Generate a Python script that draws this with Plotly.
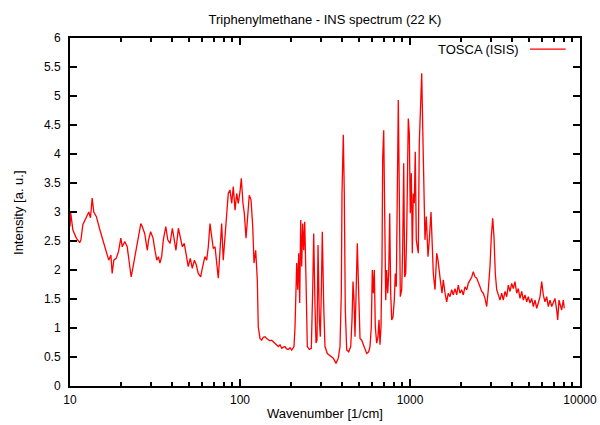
import plotly.graph_objects as go

title_text = "Triphenylmethane - INS spectrum (22 K)"
x_title = "Wavenumber [1/cm]"
y_title = "Intensity [a. u.]"
series_name = "TOSCA (ISIS)"

wavenumber = [
    10.0, 10.1, 10.4, 10.9, 11.4, 11.6, 11.9, 12.5, 12.9, 13.2, 13.5, 13.8, 14.3, 14.9,
    15.6, 16.4, 16.9, 17.4, 17.7, 18.1, 18.7, 19.3, 19.9, 20.3, 21.0, 21.7, 22.4, 22.9,
    23.6, 24.3, 25.1, 26.1, 26.6, 27.5, 28.5, 29.0, 29.8, 30.8,
    31.6, 32.4, 33.1, 33.8, 34.6, 35.4, 36.6, 37.6, 38.8, 40.0, 40.9, 42.0, 43.4, 44.4,
    45.8, 47.0, 48.6, 49.6, 51.0, 52.4, 53.9, 55.3, 56.8, 58.7, 60.3, 62.2, 63.7, 65.1,
    66.6, 68.1, 69.6, 71.3, 72.9, 74.5, 76.3, 78.0, 79.7, 81.6, 83.5, 85.3, 87.3, 89.4,
    91.3, 93.5, 95.6, 97.7, 100.0, 101.8, 104.1, 106.0, 108.5, 111.0, 113.4,
    116.1, 118.8, 120.9, 123.7, 126.4, 128.1, 131.1, 134.2, 137.0, 140.3, 143.5, 146.7,
    150.0, 153.7, 157.0, 160.7, 164.5, 168.1, 172.0, 176.0, 180.0, 184.0, 188.0, 192.4,
    197.0, 201.5, 207.8, 210.7, 213.5, 215.6, 218.5, 221.5, 224.5,
    227.6, 230.7, 233.8, 237.0, 240.3, 244.5, 248.9, 255.7, 262.7, 267.7, 271.4, 276.2,
    280.0, 283.8, 287.7, 292.8, 296.8, 300.8, 304.9, 310.8, 316.2, 326.2, 338.4,
    353.9, 367.1, 378.7, 387.5, 394.4, 398.1, 405.2, 410.7, 416.3, 424.3, 436.0, 448.0,
    456.0, 462.1, 468.4, 474.8, 481.3, 489.8, 499.2, 508.1, 519.9, 531.3, 543.6, 556.3,
    571.6, 581.8, 592.1, 600.1, 608.3, 616.6, 625.0, 637.0, 648.3, 657.1, 666.1, 675.2,
    684.4, 691.0, 700.4, 710.0, 719.7, 729.4, 739.4, 749.4, 759.7, 770.0, 780.6, 794.3,
    808.4, 819.4, 830.6, 842.0, 853.5, 865.2, 877.0, 893.8, 906.0, 918.4, 930.9, 943.6,
    956.3, 969.4, 977.2, 990.6, 1004, 1018, 1032, 1045, 1060, 1074, 1089, 1104, 1119,
    1134, 1156, 1172, 1193, 1209, 1225, 1247, 1276, 1299, 1329, 1353, 1371, 1403, 1436,
    1461, 1487, 1516, 1543, 1570, 1607, 1644, 1680, 1719, 1759, 1798, 1839, 1882, 1923,
    1968, 2014, 2058, 2106, 2155, 2203, 2254, 2307, 2357, 2412, 2468, 2522, 2581, 2641,
    2699, 2762, 2826, 2888, 2955, 3007, 3065, 3119, 3175, 3236, 3307, 3384, 3463, 3539,
    3622, 3706, 3787, 3875, 3965, 4052, 4146, 4243, 4336, 4437, 4541, 4640, 4748, 4858,
    4965, 5081, 5199, 5313, 5436, 5563, 5684, 5818, 5953, 6083, 6224, 6369, 6508, 6660,
    6815, 6964, 7126, 7293, 7393, 7524, 7658, 7803, 7974, 8082,
]

intensity = [
    2.75, 2.98, 2.69, 2.55, 2.47, 2.52, 2.78, 2.92, 3.00, 2.90, 3.24, 3.00, 2.92, 2.72,
    2.52, 2.32, 2.17, 2.26, 1.94, 2.17, 2.20, 2.32, 2.55, 2.40, 2.49, 2.40, 2.14, 1.88,
    2.09, 2.29, 2.52, 2.80, 2.75, 2.63, 2.34, 2.52, 2.66, 2.55,
    2.34, 2.17, 2.23, 2.12, 2.23, 2.52, 2.75, 2.52, 2.46, 2.72, 2.55, 2.34, 2.72, 2.58,
    2.40, 2.46, 2.23, 2.06, 2.20, 2.03, 2.17, 2.09, 1.94, 1.88, 2.06, 2.23, 2.17, 2.40,
    2.80, 2.58, 2.37, 2.40, 2.17, 1.86, 2.34, 2.80, 2.17, 2.52, 2.98, 3.32, 3.38, 3.15,
    3.44, 3.03, 3.32, 3.15, 3.35, 3.58, 3.15, 2.98, 2.55, 2.86, 3.29,
    3.21, 2.75, 2.12, 2.34, 1.83, 1.02, 0.82, 0.79, 0.84, 0.85, 0.82, 0.80,
    0.78, 0.79, 0.76, 0.74, 0.70, 0.68, 0.71, 0.65, 0.67, 0.68, 0.64, 0.63,
    0.66, 0.62, 0.68, 1.02, 1.66, 2.12, 1.66, 2.29, 1.43,
    2.86, 2.06, 2.80, 2.34, 2.83, 1.83, 0.68, 0.63, 0.65, 1.66, 2.63, 1.37,
    0.74, 0.79, 2.43, 1.14, 0.85, 1.60, 2.66, 1.37, 0.68, 0.56, 0.53,
    0.48, 0.39, 0.48, 0.68, 1.60, 3.32, 4.33, 3.32, 1.31, 0.62, 0.59, 0.68,
    1.14, 1.80, 1.48, 0.85, 1.60, 2.46, 1.60, 0.82, 0.79, 0.71, 0.62, 0.56,
    0.59, 0.68, 1.02, 2.00, 1.60, 2.00, 1.02, 0.74, 0.85, 1.14, 0.71, 1.02,
    2.17, 3.95, 4.41, 2.75, 1.48, 2.00, 1.60, 1.94, 2.98, 1.60, 1.14, 1.19,
    1.48, 1.94, 1.71, 3.32, 4.93, 3.32, 1.54, 1.66, 2.40, 3.84, 1.88, 1.94,
    2.63, 3.90, 4.61, 4.36, 2.98, 3.67, 2.29, 3.32, 3.15, 4.04, 2.52, 2.40, 2.29,
    4.18, 5.05, 5.39, 4.18, 3.03, 2.52, 2.92, 2.23, 2.52, 3.00, 2.40, 1.94, 1.66, 2.29,
    2.17, 1.94, 1.77, 1.60, 1.83, 1.60, 1.45, 1.60, 1.54, 1.66, 1.57, 1.68, 1.57, 1.74,
    1.60, 1.66, 1.57, 1.71, 1.66, 1.77, 1.83, 1.88, 1.97, 1.88, 1.86, 1.77, 1.71, 1.63,
    1.60, 1.51, 1.37, 1.66, 2.06, 2.57, 2.89, 2.57, 1.94, 1.66, 1.57, 1.48, 1.60, 1.48,
    1.63, 1.54, 1.74, 1.63, 1.77, 1.68, 1.80, 1.60, 1.68, 1.51, 1.63, 1.48, 1.57, 1.45,
    1.54, 1.43, 1.51, 1.37, 1.48, 1.34, 1.43, 1.54, 1.80, 1.57, 1.45, 1.54, 1.37, 1.48,
    1.37, 1.45, 1.51, 1.31, 1.14, 1.48, 1.37, 1.31, 1.48, 1.34,
]

x_tickvals = [10, 100, 1000, 10000]
x_ticktext = ["10", "100", "1000", "10000"]
x_minor = [m * d for d in (10, 100, 1000) for m in range(2, 10)]

font_family = "Liberation Sans, Arial, sans-serif"
tick_font = dict(size=12, color="black", family=font_family)
label_font = dict(size=13, color="black", family=font_family)

fig = go.Figure()
fig.add_trace(go.Scatter(
    x=wavenumber, y=intensity, mode="lines", name=series_name,
    line=dict(color="#ff0000", width=1.3), showlegend=False,
))

axis_common = dict(
    showline=True, linecolor="black", linewidth=2, mirror="ticks",
    ticks="inside", tickcolor="black", tickwidth=1.5, showgrid=False, zeroline=False,
    tickfont=tick_font, automargin=False,
)

fig.update_xaxes(
    type="log", range=[1, 4], tickvals=x_tickvals, ticktext=x_ticktext, ticklen=7,
    minor=dict(tickvals=x_minor, ticks="inside", ticklen=4, tickcolor="black", tickwidth=1.5),
    ticklabelstandoff=2,
    **axis_common,
)
fig.update_yaxes(
    range=[0, 6], dtick=0.5, tick0=0, ticklen=7, ticklabelstandoff=5,
    **axis_common,
)

# axis titles
fig.add_annotation(x=0.5, y=-0.078, xref="paper", yref="paper", text=x_title,
                   showarrow=False, xanchor="center", yanchor="middle", font=label_font)
fig.add_annotation(x=-0.102, y=0.5, xref="paper", yref="paper", text=y_title, textangle=-90,
                   showarrow=False, xanchor="center", yanchor="middle", font=label_font)

# gnuplot-style key: text then line sample
fig.add_annotation(
    x=0.884, y=0.968, xref="paper", yref="paper", text=series_name, showarrow=False,
    xanchor="right", yanchor="middle", font=label_font,
)
fig.add_shape(type="line", xref="paper", yref="paper", x0=0.902, x1=0.972, y0=0.968, y1=0.968,
              line=dict(color="#ff0000", width=1.3))

fig.update_layout(
    width=600, height=425,
    margin=dict(l=70, r=20, t=38, b=39, autoexpand=False),
    paper_bgcolor="white", plot_bgcolor="white",
    title=dict(text=title_text, x=0.5, xref="paper", xanchor="center", y=0.955, yanchor="middle",
               font=label_font),
    font=dict(family=font_family, color="black"),
)

fig.write_html(
    "out.html",
    config={"displayModeBar": False},
    post_script="document.body.style.margin='0';document.body.style.padding='0';"
                "document.body.style.overflow='hidden';",
)
